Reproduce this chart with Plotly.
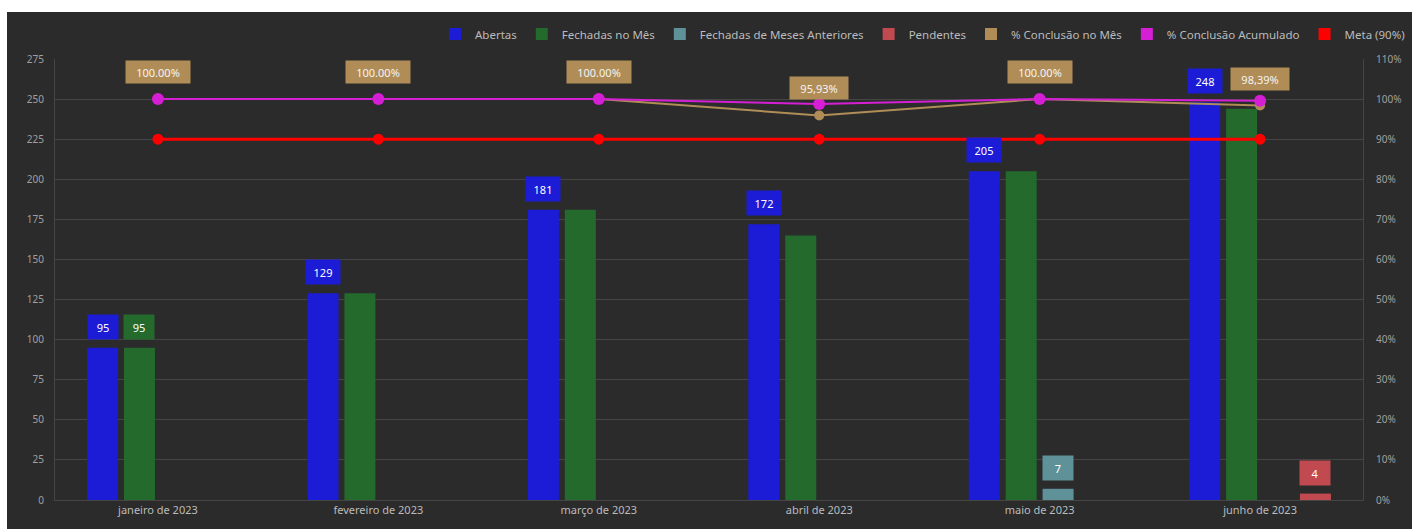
import plotly.graph_objects as go

months = ["janeiro de 2023", "fevereiro de 2023", "março de 2023",
          "abril de 2023", "maio de 2023", "junho de 2023"]
abertas = [95, 129, 181, 172, 205, 248]
fechadas_mes = [95, 129, 181, 165, 205, 244]
fechadas_anteriores = [0, 0, 0, 0, 7, 0]
pendentes = [0, 0, 0, 0, 0, 4]
pct_mes = [100.0, 100.0, 100.0, 95.93, 100.0, 98.39]
pct_mes_labels = ["100.00%", "100.00%", "100.00%", "95,93%", "100.00%", "98,39%"]
pct_acumulado = [100.0, 100.0, 100.0, 98.79, 100.0, 99.61]
meta = [90, 90, 90, 90, 90, 90]
show_fechadas_label = [True, False, False, False, False, False]

C_ABERTAS = "#1c1cd6"
C_FECH = "#236a2c"
C_ANT = "#5f9199"
C_PEND = "#c04a50"
C_PMES = "#b08d57"
C_PACUM = "#d41fd4"
C_META = "#ff0000"
BG = "#2b2b2b"
GRID = "#454545"
FONT = "Noto Sans"

x = list(range(len(months)))
BARGAP = 0.33
slot = (1 - BARGAP) / 4

fig = go.Figure()
bar_series = [
    ("Abertas", abertas, C_ABERTAS),
    ("Fechadas no Mês", fechadas_mes, C_FECH),
    ("Fechadas de Meses Anteriores", fechadas_anteriores, C_ANT),
    ("Pendentes", pendentes, C_PEND),
]
for name, vals, col in bar_series:
    fig.add_trace(go.Bar(x=x, y=vals, name=name, marker=dict(color=col, line=dict(width=0)),
                         yaxis="y", hoverinfo="skip"))

fig.add_trace(go.Scatter(x=x, y=meta, yaxis="y2", mode="lines+markers", showlegend=False,
                         line=dict(color=C_META, width=3), marker=dict(size=11, color=C_META)))
fig.add_trace(go.Scatter(x=x, y=pct_mes, yaxis="y2", mode="lines+markers", showlegend=False,
                         line=dict(color=C_PMES, width=2), marker=dict(size=10, color=C_PMES)))
fig.add_trace(go.Scatter(x=x, y=pct_acumulado, yaxis="y2", mode="lines+markers", showlegend=False,
                         line=dict(color=C_PACUM, width=2), marker=dict(size=12, color=C_PACUM)))

for name, col in [("% Conclusão no Mês", C_PMES), ("% Conclusão Acumulado", C_PACUM),
                  ("Meta (90%)", C_META)]:
    fig.add_trace(go.Scatter(x=[None], y=[None], yaxis="y2", mode="markers", name=name,
                             marker=dict(symbol="square", size=12, color=col)))

annotations = []
for k, (name, vals, col) in enumerate(bar_series):
    for i, v in enumerate(vals):
        if v == 0:
            continue
        if k == 1 and not show_fechadas_label[i]:
            continue
        annotations.append(dict(
            x=i + (k - 1.5) * slot, y=v, xref="x", yref="y", text=str(v), showarrow=False,
            yanchor="middle", yshift=21, bgcolor=col, width=24 if len(str(v)) < 3 else 28,
            height=18, borderpad=3, font=dict(color="white", size=11, family=FONT)))
for i, (v, lbl) in enumerate(zip(pct_mes, pct_mes_labels)):
    annotations.append(dict(
        x=i, y=v, xref="x", yref="y2", text=lbl, showarrow=False, yanchor="middle",
        yshift=27, bgcolor=C_PMES, width=58 if len(lbl) > 6 else 52, height=16, borderpad=3,
        font=dict(color="#f4f4f4", size=11, family=FONT)))

L, R, T, B = 55, 49, 59, 29
W, H = 1412, 529
pw, ph = W - L - R, H - T - B
shapes = [
    dict(type="rect", xref="paper", yref="paper", layer="above",
         x0=-L / pw, x1=(W - L) / pw, y0=(ph + T - 12) / ph, y1=(ph + T) / ph,
         fillcolor="white", line=dict(width=0)),
    dict(type="rect", xref="paper", yref="paper", layer="above",
         x0=-L / pw, x1=(7 - L) / pw, y0=-B / ph, y1=(ph + T) / ph,
         fillcolor="white", line=dict(width=0)),
]

fig.update_layout(
    width=W, height=H, margin=dict(l=L, r=R, t=T, b=B, autoexpand=False),
    paper_bgcolor=BG, plot_bgcolor=BG,
    font=dict(family=FONT, color="#aaaaaa", size=10),
    barmode="group", bargap=BARGAP, bargroupgap=0.16,
    showlegend=True,
    legend=dict(orientation="h", x=(1410 - L) / pw, xanchor="right", y=(ph + T - 34) / ph,
                yanchor="middle", font=dict(size=11.5, color="#bbbbbb"),
                bgcolor="rgba(0,0,0,0)", itemwidth=30, traceorder="normal"),
    xaxis=dict(tickmode="array", tickvals=x, ticktext=months, range=[-0.467, 5.467],
               showgrid=False, zeroline=False, showline=True, linecolor=GRID, linewidth=1,
               tickfont=dict(size=11, color="#bbbbbb"), ticks=""),
    yaxis=dict(range=[0, 275], dtick=25, tick0=0, gridcolor=GRID, gridwidth=1, zeroline=False,
               showline=True, linecolor=GRID, linewidth=1, tickfont=dict(size=10, color="#a0a0a0"),
               ticks="", ticklabelstandoff=8, automargin=False),
    yaxis2=dict(range=[0, 110], dtick=10, tick0=0, ticksuffix="%", overlaying="y", side="right",
                showgrid=False, zeroline=False, showline=True, linecolor=GRID, linewidth=1,
                tickfont=dict(size=10, color="#a0a0a0"), ticks="", ticklabelstandoff=10,
                automargin=False),
    annotations=annotations, shapes=shapes,
)

fig.write_html("out.html")
